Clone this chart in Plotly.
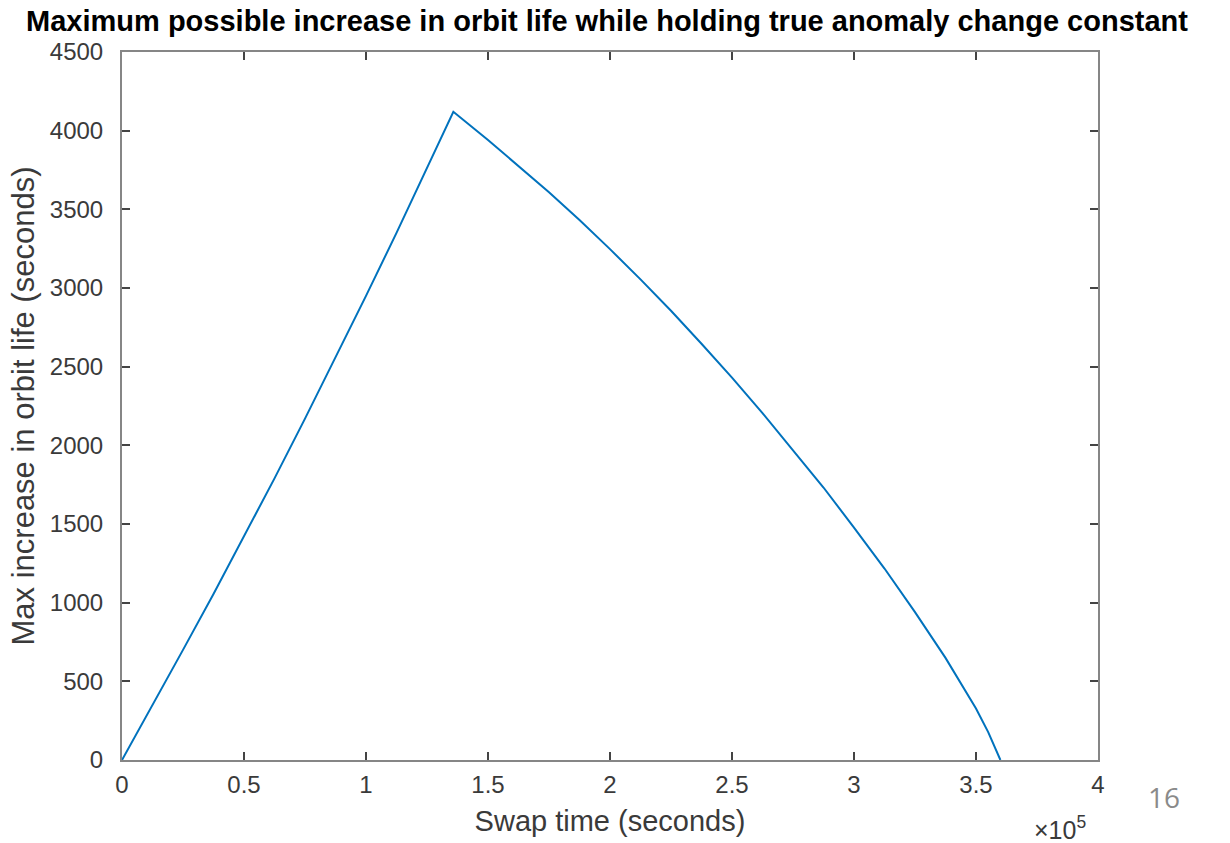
import plotly.graph_objects as go

# Swap time (seconds) and the corresponding maximum gain in orbit life (seconds)
swap_time = [0, 12500, 25000, 37500, 50000, 62500, 75000, 87500, 100000,
             112500, 125000, 130000, 135800,
             150000, 162500, 175000, 187500, 200000, 212500, 225000,
             237500, 250000, 262500, 275000, 287500, 300000, 312500,
             325000, 337500, 350000, 355000, 360000]
orbit_gain = [0, 348, 700, 1055, 1420, 1790, 2170, 2555, 2950,
              3350, 3760, 3925, 4120,
              3941, 3777, 3609, 3432, 3247, 3055, 2855,
              2646, 2430, 2205, 1972, 1732, 1477, 1217,
              940, 649, 327, 177, 0]

x_tick_vals = [0, 50000, 100000, 150000, 200000, 250000, 300000, 350000, 400000]
x_tick_text = ["0", "0.5", "1", "1.5", "2", "2.5", "3", "3.5", "4"]
y_tick_vals = [0, 500, 1000, 1500, 2000, 2500, 3000, 3500, 4000, 4500]

FONT = "Liberation Sans, Arial, sans-serif"
AXIS_GRAY = "#868686"
TEXT_GRAY = "#3a3a3a"

fig = go.Figure()
fig.add_trace(go.Scatter(
    x=swap_time, y=orbit_gain, mode="lines",
    line=dict(color="#0072BD", width=2),
    showlegend=False,
))

axis_common = dict(
    showgrid=False, zeroline=False, showline=True, linecolor=AXIS_GRAY,
    linewidth=2, mirror="ticks", ticks="inside", ticklen=8, tickwidth=1.5,
    tickcolor="#444444", tickfont=dict(family=FONT, size=24, color=TEXT_GRAY),
)

fig.update_layout(
    width=1230, height=843,
    margin=dict(l=122, r=132, t=52, b=83),
    paper_bgcolor="white", plot_bgcolor="white",
    title=dict(
        text="<b>Maximum possible increase in orbit life while holding true anomaly change constant</b>",
        font=dict(family=FONT, size=29, color="black"),
        x=607 / 1230, xref="container", xanchor="center",
        y=1 - 21 / 843, yref="container", yanchor="middle",
    ),
    xaxis=dict(
        range=[0, 400000], tickvals=x_tick_vals, ticktext=x_tick_text,
        ticklabelstandoff=2,
        title=dict(text="Swap time (seconds)", standoff=14,
                   font=dict(family=FONT, size=29, color=TEXT_GRAY)),
        **axis_common,
    ),
    yaxis=dict(
        range=[0, 4500], tickvals=y_tick_vals, ticklabelstandoff=12,
        title=dict(text="Max increase in orbit life (seconds)", standoff=6,
                   font=dict(family=FONT, size=31, color=TEXT_GRAY)),
        **axis_common,
    ),
)

# Axis exponent for the scaled x tick labels
fig.add_annotation(
    text="\u00d710<sup>5</sup>", xref="paper", yref="paper",
    x=1.0, y=0, xanchor="right", yanchor="top", yshift=-50, xshift=-10,
    showarrow=False, font=dict(family=FONT, size=25, color=TEXT_GRAY),
)

# Slide number
fig.add_annotation(
    text="16", xref="paper", yref="paper", x=1.0, y=0,
    xanchor="left", yanchor="top", xshift=48, yshift=-16,
    showarrow=False, font=dict(family="Open Sans, Carlito, sans-serif", size=28, color="#8a8a8a"),
)

fig.write_html("out.html")
